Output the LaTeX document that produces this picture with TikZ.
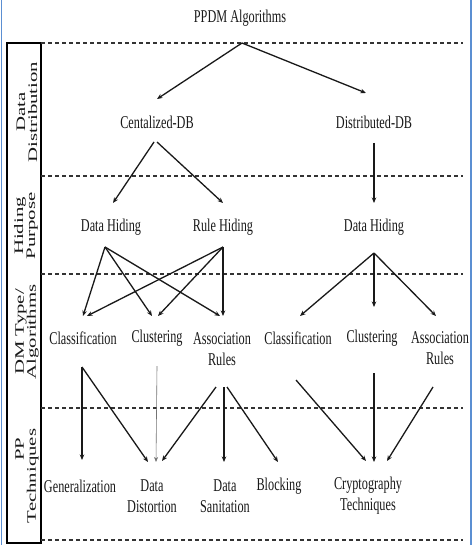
\documentclass[tikz,border=0pt]{standalone}
\usepackage{fontspec}
\setmainfont{Liberation Serif}[FakeStretch=0.68]
\newfontfamily\sidefont{Liberation Serif}[FakeStretch=1.6]
\usetikzlibrary{arrows.meta,calc}
\definecolor{frameblue}{RGB}{91,143,210}
\begin{document}
\begin{tikzpicture}[x=1pt,y=-1pt,
  lbl/.style={font=\fontsize{18}{21}\selectfont, align=center, inner sep=0pt, text=black!90},
  side/.style={font=\sidefont\fontsize{13}{12}\selectfont, align=center, inner sep=0pt, rotate=90, text=black!90},
  arr/.style={line width=1.3pt, draw=black!90, -{Stealth[length=5.5pt,width=4.5pt]}},
  thinarr/.style={line width=0.6pt, draw=black!55, -{Stealth[length=5pt,width=4pt]}},
  sep/.style={line width=1.8pt, draw=black!80, dash pattern=on 4pt off 3pt},
  blueline/.style={line width=1.5pt, draw=frameblue},
]
\useasboundingbox (0,0) rectangle (475,545);
\fill[white] (0,0) rectangle (475,545);
% side frame
\draw[blueline] (1.5,0) -- (1.5,545);
\draw[blueline] (471,0) -- (471,545);
% left label box
\draw[line width=1.6pt] (7,43) rectangle (41,543);
% separators
\foreach \yy in {43,176,274,408,540}
  \draw[sep] (41,\yy) -- (463,\yy);
% side labels
\node[side] (sd1) at (27,112) {Data\\Distribution};
\node[side] (sd2) at (26,226) {Hiding\\Purpose};
\node[side] (sd3) at (27,332) {DM Type/\\Algorithms};
\node[side] (sd4) at (27,476) {\hspace*{54pt}PP\\Techniques};
% nodes
\node[lbl] (ppdm) at (240,18) {PPDM Algorithms};
\node[lbl] (cdb) at (157,122) {Centalized-DB};
\node[lbl] (ddb) at (374,122) {Distributed-DB};
\node[lbl] (dh1) at (111,227) {Data Hiding};
\node[lbl] (rh) at (223,227) {Rule Hiding};
\node[lbl] (dh2) at (374,227) {Data Hiding};
\node[lbl] (cl1) at (83,338) {Classification};
\node[lbl] (cu1) at (157,338) {Clustering};
\node[lbl] (ar1) at (222,349) {Association\\Rules};
\node[lbl] (cl2) at (298,338) {Classification};
\node[lbl] (cu2) at (372,338) {Clustering};
\node[lbl] (ar2) at (440,348) {Association\\Rules};
\node[lbl] (gen) at (80,486) {Generalization};
\node[lbl] (dd) at (152,496) {Data\\Distortion};
\node[lbl] (ds) at (225,496) {Data\\Sanitation};
\node[lbl] (blk) at (279,486) {Blocking};
\node[lbl] (ct) at (368,496) {Cryptography\\Techniques};
% connectors
\draw[arr] ($(ppdm)+(2,25)$) -- ($(cdb)+(0,-23)$);
\draw[arr] ($(ppdm)+(2,25)$) -- ($(ddb)+(-8,-29)$);
\draw[arr] ($(cdb)+(-3,20)$) -- ($(dh1)+(2,-24)$);
\draw[arr] ($(cdb)+(0,20)$) -- ($(rh)+(0,-24)$);
\draw[arr] ($(ddb)+(0,21)$) -- ($(dh2)+(0,-24)$);
\draw[arr] ($(dh1)+(-6,20)$) -- ($(cl1)+(0,-22)$);
\draw[arr] ($(dh1)+(-6,20)$) -- ($(cu1)+(-5,-22)$);
\draw[arr] ($(dh1)+(-6,20)$) -- ($(ar1)+(-2,-33)$);
\draw[arr] ($(rh)+(0,20)$) -- ($(cl1)+(4,-22)$);
\draw[arr] ($(rh)+(0,20)$) -- ($(cu1)+(1,-22)$);
\draw[arr] ($(rh)+(0,20)$) -- ($(ar1)+(1,-33)$);
\draw[arr] ($(dh2)+(0,26)$) -- ($(cl2)+(2,-22)$);
\draw[arr] ($(dh2)+(0,26)$) -- ($(cu2)+(2,-31)$);
\draw[arr] ($(dh2)+(0,26)$) -- ($(ar2)+(-4,-32)$);
\draw[arr] ($(cl1)+(-1,29)$) -- ($(gen)+(2,-26)$);
\draw[arr] ($(cl1)+(-1,29)$) -- ($(dd)+(-4,-34)$);
\draw[thinarr] ($(cu1)+(0,28)$) -- ($(dd)+(4,-34)$);
\draw[arr] ($(ar1)+(-6,38)$) -- ($(dd)+(10,-35)$);
\draw[arr] ($(ar1)+(2,38)$) -- ($(ds)+(-1,-34)$);
\draw[arr] ($(ar1)+(5,38)$) -- ($(blk)+(-1,-24)$);
\draw[arr] ($(cl2)+(-2,42)$) -- ($(ct)+(-2,-35)$);
\draw[arr] ($(cu2)+(2,35)$) -- ($(ct)+(6,-34)$);
\draw[arr] ($(ar2)+(-7,39)$) -- ($(ct)+(19,-35)$);
\end{tikzpicture}
\end{document}
